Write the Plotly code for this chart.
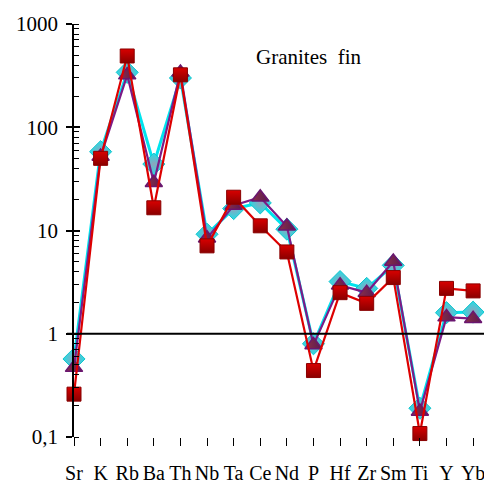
import plotly.graph_objects as go

elements = ["Sr", "K", "Rb", "Ba", "Th", "Nb", "Ta", "Ce", "Nd", "P", "Hf", "Zr", "Sm", "Ti", "Y", "Yb"]
cyan_vals = [0.57, 58, 340, 44, 300, 9.2, 16.3, 18.5, 10.3, 0.80, 3.2, 2.75, 4.6, 0.19, 1.6, 1.62]
purple_vals = [0.47, 52, 320, 29, 340, 8.4, 17.5, 21, 11, 0.78, 2.95, 2.5, 5.0, 0.177, 1.45, 1.4]
red_vals = [0.26, 50, 490, 16.6, 322, 7.1, 21, 11.1, 6.2, 0.44, 2.5, 1.97, 3.5, 0.108, 2.75, 2.6]

ytickvals = [0.1, 1, 10, 100, 1000]
yticktext = ["0,1", "1", "10", "100", "1000"]

idx = list(range(len(elements)))
FONT = "Liberation Serif, Times New Roman, serif"

fig = go.Figure()
fig.add_trace(go.Scatter(
    x=idx, y=cyan_vals, mode="lines+markers", cliponaxis=False,
    line=dict(color="#00e4ee", width=3),
    marker=dict(symbol="diamond", size=17, color="#22dde6",
                line=dict(color="#14c4cc", width=1),
                gradient=dict(type="radial", color="#90a4bc")),
    showlegend=False))
fig.add_trace(go.Scatter(
    x=idx, y=purple_vals, mode="lines+markers", cliponaxis=False,
    line=dict(color="#7d1a86", width=2.2),
    marker=dict(symbol="triangle-up", size=15, color="#8c3048",
                line=dict(color="#6a1670", width=1.5),
                gradient=dict(type="horizontal", color="#5a1a50")),
    showlegend=False))
fig.add_trace(go.Scatter(
    x=idx, y=red_vals, mode="lines+markers", cliponaxis=False,
    line=dict(color="#dd0000", width=2.2),
    marker=dict(symbol="square", size=14, color="#d80000",
                line=dict(color="#8a0000", width=1),
                gradient=dict(type="vertical", color="#8a0000")),
    showlegend=False))
# helper trace for inside major ticks
fig.add_trace(go.Scatter(x=[None], y=[None], yaxis="y2", showlegend=False, hoverinfo="skip"))

fig.add_shape(type="line", xref="paper", yref="y", x0=-0.017, x1=1, y0=1, y1=1,
              line=dict(color="black", width=2), layer="above")

fig.add_annotation(text="Granites\u00a0 fin", xref="paper", yref="paper", x=0.56, y=0.955,
                   showarrow=False, font=dict(family=FONT, size=21, color="black"))

fig.update_layout(
    width=484, height=480,
    margin=dict(l=66, r=0, t=16, b=51),
    paper_bgcolor="white", plot_bgcolor="white",
    font=dict(family=FONT, color="black"),
    xaxis=dict(
        tickmode="array", tickvals=idx, ticktext=elements, tickangle=0,
        range=[0, 15.71], showgrid=False, zeroline=False, showline=False,
        ticks="outside", ticklen=8, tickwidth=1, tickcolor="black",
        ticklabelstandoff=10,
        tickfont=dict(family=FONT, size=20, color="black"),
    ),
    yaxis=dict(
        type="log", range=[-1, 3], tickmode="array", tickvals=ytickvals, ticktext=yticktext,
        showgrid=False, zeroline=False, showline=True, linecolor="black", linewidth=1.5,
        ticks="outside", ticklen=6, tickwidth=1.5, tickcolor="black",
        ticklabelstandoff=4,
        tickfont=dict(family=FONT, size=21, color="black"),
        minor=dict(ticks="inside", ticklen=5, tickwidth=1, tickcolor="black",
                   showgrid=False, dtick="D1", tickmode="linear"),
    ),
    yaxis2=dict(
        type="log", range=[-1, 3], overlaying="y", side="left", anchor="x",
        tickmode="array", tickvals=ytickvals, showticklabels=False,
        showgrid=False, zeroline=False, showline=False,
        ticks="inside", ticklen=6, tickwidth=1.5, tickcolor="black",
    ),
)

fig.write_html("out.html")
